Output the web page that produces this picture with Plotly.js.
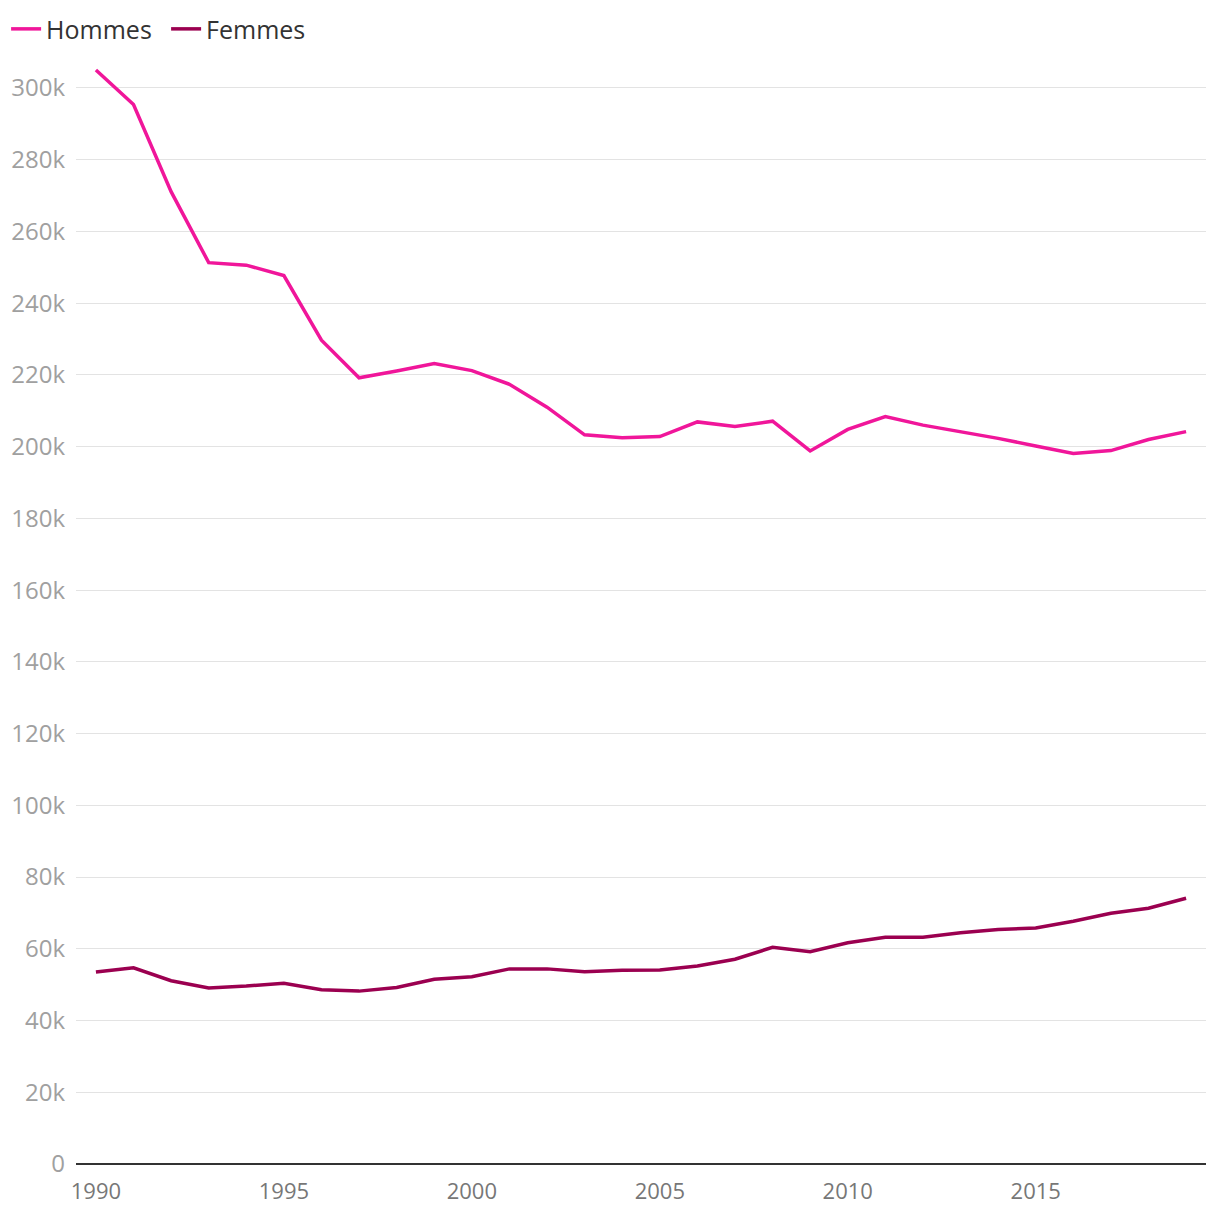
<!DOCTYPE html>
<html>
<head>
<meta charset="utf-8">
<script src="https://cdn.plot.ly/plotly-3.0.1.min.js"></script>
<style>html,body{margin:0;padding:0;background:#fff;}#chart{width:1220px;height:1222px;}</style>
</head>
<body>
<div id="chart"></div>
<script>
const years = [1990,1991,1992,1993,1994,1995,1996,1997,1998,1999,2000,2001,2002,2003,2004,2005,2006,2007,2008,2009,2010,2011,2012,2013,2014,2015,2016,2017,2018,2019];
const hommes = [305000,295400,271100,251300,250600,247700,229700,219200,221100,223200,221200,217400,211000,203300,202500,202800,206900,205600,207100,198800,204800,208400,206000,204200,202300,200200,198100,198900,202000,204200];
const femmes = [53500,54700,51100,49100,49600,50400,48600,48200,49200,51500,52200,54400,54400,53600,54000,54100,55200,57100,60400,59200,61700,63200,63200,64500,65400,65800,67700,69900,71300,74100];
const seriesNames = ["Hommes","Femmes"];
const seriesColors = ["#f0169a","#9b0050"];
const xTicks = [1990,1995,2000,2005,2010,2015];

const traces = [hommes, femmes].map((vals, i) => ({
  x: years, y: vals, name: seriesNames[i], type: 'scatter', mode: 'lines',
  line: {color: seriesColors[i], width: 3.5}
}));

const layout = {
  width: 1220, height: 1222,
  margin: {l: 76, r: 14, t: 52, b: 58},
  paper_bgcolor: '#fff', plot_bgcolor: '#fff',
  font: {family: '"Open Sans", "Noto Sans", sans-serif', size: 20, color: '#333'},
  showlegend: true,
  legend: {orientation: 'h', xref: 'container', yref: 'container', x: 0.005, xanchor: 'left',
           y: 0.995, yanchor: 'top',
           font: {size: 25, color: '#333'}, entrywidth: 115, entrywidthmode: 'pixels'},
  xaxis: {range: [1989.47, 2019.53], tickvals: xTicks, showgrid: false, automargin: false,
          zeroline: false, showline: false, ticks: '', tickfont: {size: 22, color: '#777'},
          ticklabelstandoff: 12},
  yaxis: {range: [0, 310000], dtick: 20000, tickformat: '~s', gridcolor: '#e3e3e3', gridwidth: 1,
          automargin: false,
          zeroline: true, zerolinecolor: '#333', zerolinewidth: 2, showline: false, ticks: '',
          tickfont: {size: 24, color: '#a0a0a0'}, ticklabelstandoff: 10}
};
Plotly.newPlot('chart', traces, layout, {displayModeBar: false});
</script>
</body>
</html>
